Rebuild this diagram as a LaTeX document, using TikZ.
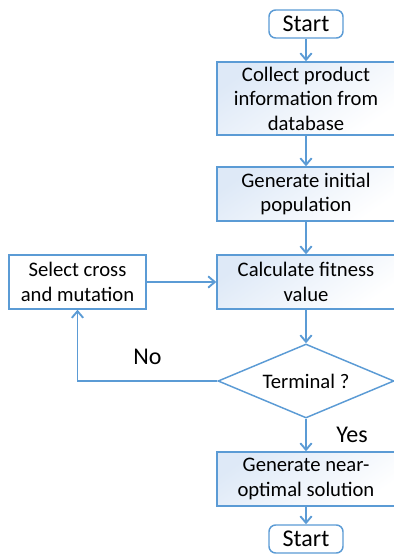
\documentclass[tikz,border=0pt]{standalone}
\usepackage{fontspec}
\setmainfont{Carlito}
\usetikzlibrary{shapes.geometric,arrows.meta,positioning}
\definecolor{flowBlue}{RGB}{91,155,213}
\definecolor{flowLight}{RGB}{222,233,247}

\begin{document}
\begin{tikzpicture}[x=0.75pt,y=-0.75pt,
    terminal/.style={draw=flowBlue, line width=1.1pt, rounded corners=5pt, fill=white,
      minimum width=55.5pt, minimum height=21pt, inner sep=0pt, font=\fontsize{18}{20}\selectfont},
    process/.style={draw=flowBlue, line width=1.1pt, top color=flowLight, bottom color=white,
      shading angle=35, minimum width=133.5pt, minimum height=40.5pt, align=center, inner sep=0pt,
      font=\fontsize{15.5}{18.4}\selectfont},
    decision/.style={diamond, aspect=2.4, draw=flowBlue, line width=1.1pt, fill=white,
      minimum width=132pt, minimum height=55.5pt, inner sep=0pt, font=\fontsize{15.5}{18.4}\selectfont},
    answer/.style={font=\fontsize{18}{20}\selectfont},
    flow/.style={draw=flowBlue, line width=1.4pt, -{Straight Barb[length=5pt,width=8.5pt]}}
  ]
  \useasboundingbox (0,0) rectangle (393,556);

  \node[terminal] (start) at (306,24) {Start};
  \node[process, minimum height=54.75pt] (collect) at (306,98.5) {Collect product\\information from\\database};
  \node[process] (init) at (306,194) {Generate initial\\population};
  \node[process] (calc) at (306,282) {Calculate fitness\\value};
  \node[process, minimum width=102.75pt, top color=white] (select) at (77.5,282) {Select cross\\and mutation};
  \node[decision] (check) at (306,381) {Terminal ?};
  \node[process] (final) at (306,479) {Generate near-\\optimal solution};
  \node[terminal] (stop) at (306,539) {Start};

  % main flow
  \draw[flow] (start) -- (collect);
  \draw[flow] (collect) -- (init);
  \draw[flow] (init) -- (calc);
  \draw[flow] (calc) -- (check);
  \draw[flow] (check) -- node[answer, xshift=34.5pt] {Yes} (final);
  \draw[flow] (final) -- (stop);

  % loop back
  \draw[flow] (check.west) -| node[answer, pos=0.25, yshift=18pt] {No} (select.south);
  \draw[flow] (select) -- (calc);
\end{tikzpicture}
\end{document}
